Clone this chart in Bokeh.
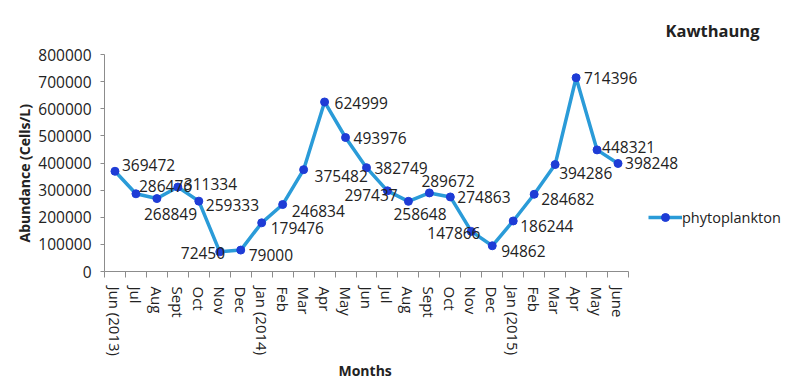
from bokeh.plotting import figure
from bokeh.models import (ColumnDataSource, Range1d, FixedTicker, Legend, LegendItem,
                          Label, NumeralTickFormatter, Title)
from bokeh.core.properties import value
from bokeh.embed import file_html
from bokeh.resources import INLINE

# ---- data ----
months = ["Jun (2013)", "Jul", "Aug", "Sept", "Oct", "Nov", "Dec", "Jan (2014)",
          "Feb", "Mar", "Apr", "May", "Jun", "Jul", "Aug", "Sept", "Oct", "Nov",
          "Dec", "Jan (2015)", "Feb", "Mar", "Apr", "May", "June"]
phytoplankton = [369472, 286476, 268849, 311334, 259333, 72450, 79000, 179476,
                 246834, 375482, 624999, 493976, 382749, 297437, 258648, 289672,
                 274863, 147866, 94862, 186244, 284682, 394286, 714396, 448321,
                 398248]
y_ticks = [0, 100000, 200000, 300000, 400000, 500000, 600000, 700000, 800000]
y_max = 800000

# ---- label placement (screen pixel offsets, layout only) ----
label_dx = [7, 3, -13, 6, 7, -39, 8, 9, 9, 11, 10, 8, 8, -43, -15, -8, 7, -44,
            9, 7, 7, 4, 8, 5, 7]
label_dy = [-6, -8, 15, -3, 4, 1, 5, 5, 6, 6, 1, 0, 0, 4, 13, -12, 0, 2,
            5, 5, 5, 8, 0, -3, 0]

# ---- layout (pixels) ----
W, H = 799, 389
AX_LEFT, AX_RIGHT, AX_TOP, AX_BOTTOM = 104, 628, 54, 271   # axis box in the page
FRAME_TOP = 4
frame_w = W - AX_LEFT
frame_h = AX_BOTTOM - FRAME_TOP
n = len(months)
px_per_cat = (AX_RIGHT - AX_LEFT) / n
px_per_val = (AX_BOTTOM - AX_TOP) / y_max
x_hi = -0.5 + frame_w / px_per_cat
y_hi = frame_h / px_per_val

FONT = "Open Sans"
LINE_COLOR = "#2A9BD8"
DOT_COLOR = "#1E3CD6"
AXIS_COLOR = "#8C8C8C"
TEXT_COLOR = "#222222"

xpos = list(range(n))
src = ColumnDataSource(dict(
    x=xpos, y=phytoplankton, label=[str(v) for v in phytoplankton],
    dx=label_dx, dy=label_dy))

p = figure(frame_width=frame_w, frame_height=frame_h, output_backend="svg",
           toolbar_location=None, title=None,
           x_range=Range1d(-0.5, x_hi), y_range=Range1d(0, y_hi),
           min_border_left=AX_LEFT, min_border_right=0, min_border_top=FRAME_TOP,
           min_border_bottom=H - AX_BOTTOM)
p.xgrid.visible = False
p.ygrid.visible = False
p.outline_line_color = None
p.background_fill_color = "white"

line = p.line("x", "y", source=src, line_color=LINE_COLOR, line_width=3.5)
dots = p.scatter("x", "y", source=src, size=8, fill_color=DOT_COLOR,
                 line_color=DOT_COLOR)
p.text("x", "y", text="label", x_offset="dx", y_offset="dy", source=src,
       text_font=value(FONT), text_font_size="15.5px", text_color=TEXT_COLOR,
       text_baseline="middle", text_align="left")

# x axis
xa = p.xaxis[0]
xa.bounds = (-0.5, n - 0.5)
xa.ticker = FixedTicker(ticks=xpos, minor_ticks=[i - 0.5 for i in range(n + 1)])
xa.major_label_overrides = {i: m for i, m in enumerate(months)}
xa.major_label_orientation = "vertical"
xa.major_tick_out = 0
xa.major_tick_in = 0
xa.minor_tick_out = 6
xa.minor_tick_in = 0
xa.minor_tick_line_color = AXIS_COLOR
xa.axis_line_color = AXIS_COLOR
xa.major_label_standoff = 9
xa.major_label_text_font = FONT
xa.major_label_text_font_size = "15px"
xa.major_label_text_color = TEXT_COLOR

# y axis
ya = p.yaxis[0]
ya.bounds = (0, y_max)
ya.ticker = FixedTicker(ticks=y_ticks)
ya.formatter = NumeralTickFormatter(format="0")
ya.major_tick_out = 4
ya.major_tick_in = 0
ya.minor_tick_out = 0
ya.minor_tick_in = 0
ya.major_tick_line_color = AXIS_COLOR
ya.axis_line_color = AXIS_COLOR
ya.major_label_standoff = 9
ya.major_label_text_font = FONT
ya.major_label_text_font_size = "15.5px"
ya.major_label_text_color = TEXT_COLOR

# axis titles, placed by their start edge relative to the frame
p.add_layout(Title(text="Months", align="left", offset=338 - AX_LEFT,
                   text_font=FONT, text_font_style="bold", text_font_size="14px",
                   text_color=TEXT_COLOR, standoff=0), "below")
p.add_layout(Title(text="Abundance (Cells/L)", align="left",
                   offset=AX_BOTTOM - 242,
                   text_font=FONT, text_font_style="bold", text_font_size="14px",
                   text_color=TEXT_COLOR, standoff=3), "left")

legend = Legend(items=[LegendItem(label="phytoplankton", renderers=[line, dots])],
                location=(648 - AX_LEFT, AX_BOTTOM - 227), padding=0, margin=0,
                spacing=0, glyph_width=34, glyph_height=20, label_standoff=0,
                label_text_font=FONT, label_text_font_size="14.5px",
                label_text_color=TEXT_COLOR, border_line_alpha=0,
                background_fill_alpha=0)
p.add_layout(legend)

p.add_layout(Label(x=665 - AX_LEFT, y=AX_BOTTOM - 30, x_units="screen",
                   y_units="screen", text="Kawthaung", text_font=FONT,
                   text_font_style="bold", text_font_size="16.5px",
                   text_color=TEXT_COLOR, text_baseline="middle"))

open("out.html", "w").write(file_html(p, INLINE))
